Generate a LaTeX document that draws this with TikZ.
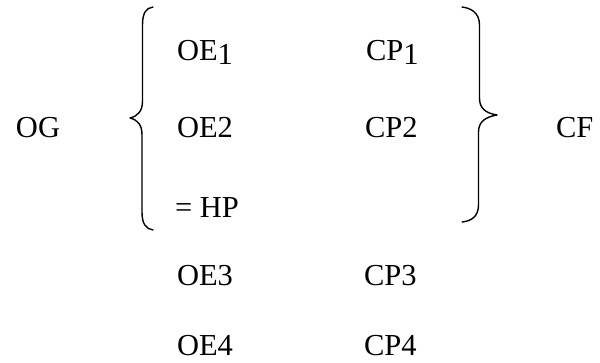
\documentclass[tikz,border=0pt]{standalone}
\usepackage{fontspec}
\setmainfont{Liberation Serif}
\begin{document}
\begin{tikzpicture}[x=1pt,y=-1pt,
  lbl/.style={anchor=base west,inner sep=0pt,outer sep=0pt,font=\fontsize{30.5}{36}\selectfont},
  bracestroke/.style={line width=1.4pt,line cap=round,line join=round}]
\useasboundingbox (0,0) rectangle (600,362);
% labels
\node[lbl] (og) at (16,137) {OG};
\node[lbl] (oe1) at (177,60) {OE\raisebox{-4pt}{1}};
\node[lbl] (cp1) at (366,60) {CP\raisebox{-4pt}{1}};
\node[lbl] (oe2) at (177,137) {OE2};
\node[lbl] (cp2) at (365,137) {CP2};
\node[lbl] (hp) at (175,217) {= HP};
\node[lbl] (oe3) at (177,285) {OE3};
\node[lbl] (cp3) at (364,285) {CP3};
\node[lbl] (oe4) at (177,355) {OE4};
\node[lbl] (cp4) at (364,355) {CP4};
\node[lbl] (cf) at (556,137) {CF};
% left brace
\draw[bracestroke] (153,7) .. controls (146,8) and (142.5,13) .. (142.5,25)
  -- (142.5,101) .. controls (142.5,111) and (138,116) .. (130,118)
  .. controls (138,120) and (142,125) .. (142,135)
  -- (142,212) .. controls (142,224) and (146,229) .. (153,230);
% right brace
\draw[bracestroke] (462,7) .. controls (470,8) and (479.5,12) .. (479.5,25)
  -- (479.5,98) .. controls (479.5,108) and (485,113) .. (497,115)
  .. controls (485,117) and (478.5,122) .. (478.5,132)
  -- (478.5,205) .. controls (478.5,216) and (472,221) .. (462,222);
\end{tikzpicture}
\end{document}
